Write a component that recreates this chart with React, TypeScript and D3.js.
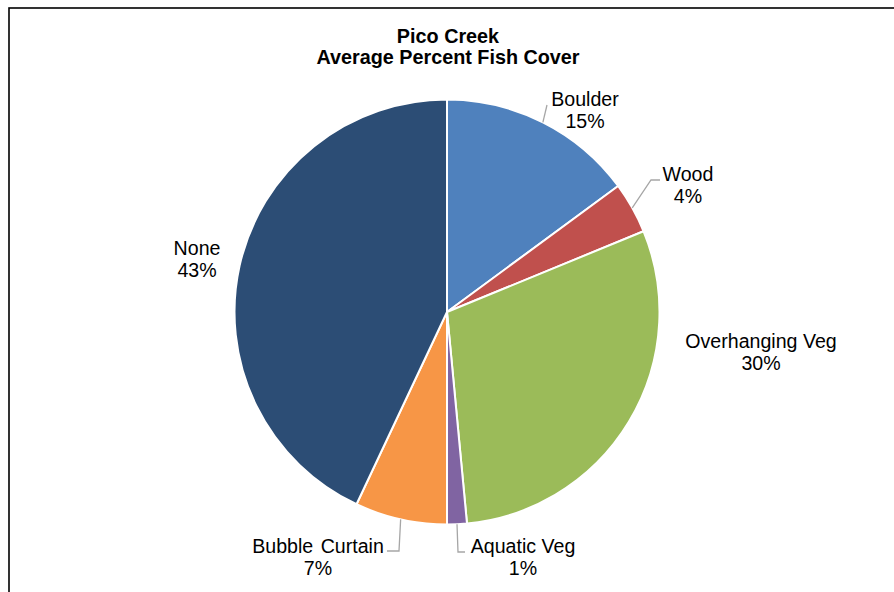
import React from "react";
import * as d3 from "d3";

const categories = ["Boulder", "Wood", "Overhanging Veg", "Aquatic Veg", "Bubble Curtain", "None"];
const values = [14.9, 3.9, 29.7, 1.5, 7.0, 43.0];
const percentLabels = ["15%", "4%", "30%", "1%", "7%", "43%"];
const colors = ["#4F81BD", "#C0504D", "#9BBB59", "#8064A2", "#F79646", "#2C4D75"];
const titleLines = ["Pico Creek", "Average Percent Fish Cover"];

// label layout: text center x, first baseline y, optional leader elbow/end points
const labelLayout = [
  { x: 585, y: 106, leader: [[547, 105]] },
  { x: 688, y: 180.5, leader: [[651, 180], [660, 180]] },
  { x: 761, y: 348, leader: null },
  { x: 523, y: 553, leader: [[458, 552], [465, 552]] },
  { x: 318, y: 553, leader: [[399, 551], [387, 551]] },
  { x: 197, y: 255, leader: null },
];

const W = 894;
const H = 592;
const cx = 447;
const cy = 312;
const R = 212.5;
const FONT = "'Liberation Sans', Arial, sans-serif";

export default function App() {
  const pie = d3.pie<number>().sort(null).value((d) => d);
  const arcs = pie(values);
  const arcGen = d3.arc<d3.PieArcDatum<number>>().innerRadius(0).outerRadius(R);
  const line = d3.line();

  return (
    <svg
      width={W}
      height={H}
      style={{ position: "absolute", left: 0, top: 0, background: "#fff" }}
    >
      <rect x={0} y={0} width={W} height={H} fill="#fff" />
      <rect x={9} y={8} width={W + 20} height={H + 20} fill="none" stroke="#000" strokeWidth={1.6} />
      <g fontFamily={FONT} fontWeight="bold" fontSize={19.8} textAnchor="middle" fill="#000">
        {titleLines.map((t, i) => (
          <text key={t} x={448} y={43.3 + i * 21}>
            {t}
          </text>
        ))}
      </g>
      <g transform={`translate(${cx},${cy})`}>
        {arcs.map((a, i) => (
          <path key={categories[i]} d={arcGen(a) || ""} fill={colors[i]} stroke="#fff" strokeWidth={2} strokeLinejoin="round" />
        ))}
      </g>
      {arcs.map((a, i) => {
        const L = labelLayout[i];
        if (!L.leader) return null;
        const mid = (a.startAngle + a.endAngle) / 2;
        const start: [number, number] = [cx + R * Math.sin(mid), cy - R * Math.cos(mid)];
        const pts = [start, ...(L.leader as [number, number][])];
        return <path key={"l" + i} d={line(pts) || ""} fill="none" stroke="#A6A6A6" strokeWidth={1.3} />;
      })}
      <g fontFamily={FONT} fontSize={19.6} textAnchor="middle" fill="#000">
        {categories.map((c, i) => (
          <text key={c} x={labelLayout[i].x} y={labelLayout[i].y} wordSpacing={c === "Bubble Curtain" ? 2 : 0}>
            <tspan x={labelLayout[i].x}>{c}</tspan>
            <tspan x={labelLayout[i].x} dy={22.3}>
              {percentLabels[i]}
            </tspan>
          </text>
        ))}
      </g>
    </svg>
  );
}
